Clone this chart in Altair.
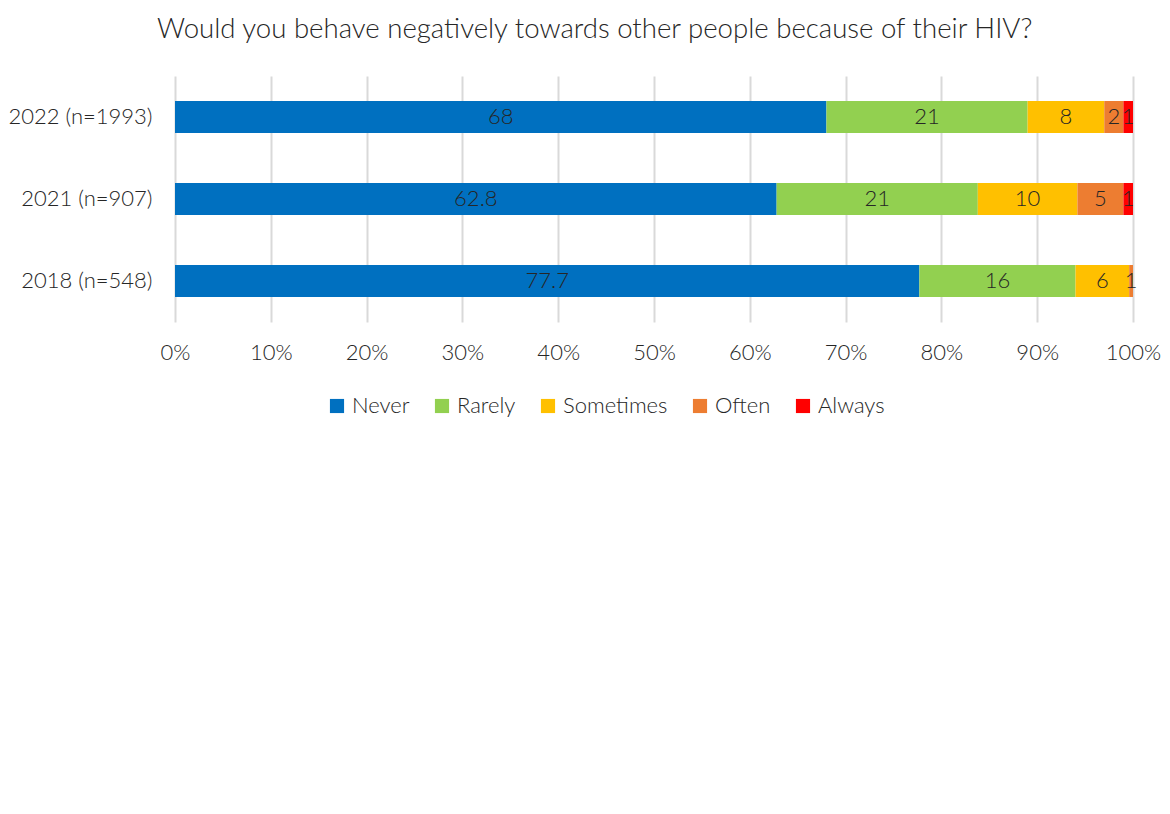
import altair as alt
import pandas as pd

years = ["2022 (n=1993)", "2021 (n=907)", "2018 (n=548)"]
series = ["Never", "Rarely", "Sometimes", "Often", "Always"]
colors = ["#0070C0", "#92D050", "#FFC000", "#ED7D31", "#FF0000"]

never = [68, 62.8, 77.7]
rarely = [21, 21, 16.3]
sometimes = [8, 10.4, 5.6]
often = [2, 4.8, 0.4]
always = [1, 1.0, 0]

never_lbl = ["68", "62.8", "77.7"]
rarely_lbl = ["21", "21", "16"]
sometimes_lbl = ["8", "10", "6"]
often_lbl = ["2", "5", "1"]
always_lbl = ["1", "1", ""]

ticks = [0, 10, 20, 30, 40, 50, 60, 70, 80, 90, 100]

rows = []
for si, (name, vals, lbls) in enumerate(zip(
        series,
        [never, rarely, sometimes, often, always],
        [never_lbl, rarely_lbl, sometimes_lbl, often_lbl, always_lbl])):
    for y, v, l in zip(years, vals, lbls):
        rows.append({"year": y, "series": name, "order": si, "value": v, "label": l})
df = pd.DataFrame(rows)

FONT = "Lato"
FW = 300

base = alt.Chart(df).transform_stack(
    stack="value", groupby=["year"], sort=[alt.SortField("order")], as_=["x0", "x1"]
).transform_calculate(xm="(datum.x0 + datum.x1) / 2")

y_enc = alt.Y("year:N", sort=years, title=None,
              scale=alt.Scale(paddingInner=0.61, paddingOuter=0.305),
              axis=alt.Axis(domain=False, ticks=False, labelFontSize=22,
                            labelColor="#262626", labelFont=FONT, labelFontWeight=FW,
                            labelPadding=23))

bars = base.mark_bar().encode(
    y=y_enc,
    x=alt.X("x0:Q", title=None,
            scale=alt.Scale(domain=[0, 100], nice=False),
            axis=alt.Axis(values=ticks, labelExpr="datum.value + '%'",
                          domain=False, ticks=False, grid=True,
                          gridColor="#d9d9d9", gridWidth=2,
                          labelFontSize=22, labelColor="#262626", labelFont=FONT,
                          labelFontWeight=FW, labelPadding=20, labelFlush=False,
                          labelOverlap=False, labelBound=False)),
    x2="x1:Q",
    color=alt.Color("series:N", sort=series,
                    scale=alt.Scale(domain=series, range=colors),
                    legend=alt.Legend(title=None, orient="none", direction="horizontal",
                                      legendX=151, legendY=319, columns=5,
                                      symbolType="square", symbolSize=200,
                                      symbolStrokeWidth=0, labelFontSize=22,
                                      labelColor="#262626", labelFont=FONT,
                                      labelFontWeight=FW,
                                      columnPadding=21, labelOffset=4)),
)

texts = base.mark_text(fontSize=22, color="#262626", font=FONT, fontWeight=FW).encode(
    y=alt.Y("year:N", sort=years),
    x=alt.X("xm:Q"),
    text="label:N",
)

chart = (bars + texts).properties(
    width=958, height=246,
    autosize=alt.AutoSizeParams(type="none"),
    padding={"left": 167, "top": 68, "right": 29, "bottom": 100},
    title=alt.TitleParams("Would you behave negatively towards other people because of their HIV?",
                          fontSize=27.6, font=FONT, fontWeight=FW, color="#262626",
                          anchor="start", frame="group", dx=-18, offset=32),
).configure_view(stroke=None)

chart.save("out.html", embed_options={"renderer": "svg", "actions": False})
